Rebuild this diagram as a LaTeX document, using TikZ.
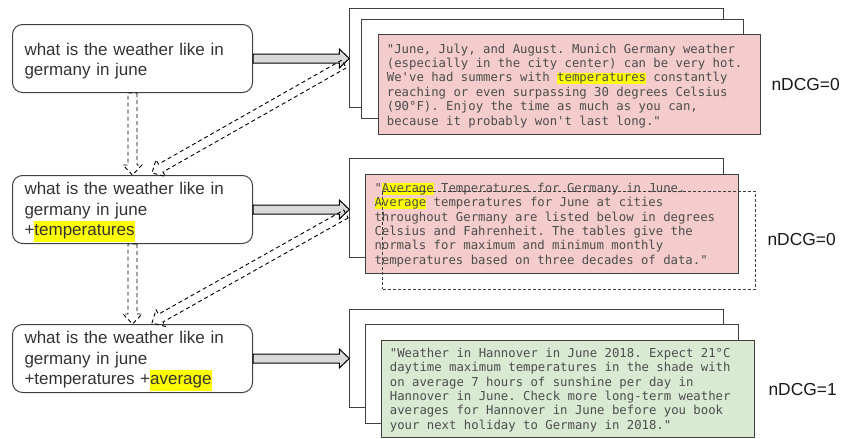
\documentclass[tikz,border=0pt]{standalone}
\usepackage{fontspec}
\setmonofont{DejaVu Sans Mono}
\newfontfamily\qfont{Liberation Sans}
\usetikzlibrary{calc}
\definecolor{pinkbg}{HTML}{F4CCCC}
\definecolor{greenbg}{HTML}{D9EAD3}
\definecolor{arrowgrey}{HTML}{D9D9D9}
\definecolor{hly}{HTML}{FFFF00}
\definecolor{qtext}{HTML}{333333}
\definecolor{dtext}{HTML}{4D4D4D}
\definecolor{edge}{HTML}{404040}
\newcommand\hlq[1]{{\setlength\fboxsep{0pt}\colorbox{hly}{\strut#1}}}
\newcommand\hld[1]{{\setlength\fboxsep{0pt}\colorbox{hly}{\rule[-2.6pt]{0pt}{11.4pt}#1}}}
\newcommand\blockarrow[3]{%
  \path[#1] let \p1=#2, \p2=#3, \n1={atan2(\y2-\y1,\x2-\x1)} in
    ($(\p1)+({\n1+90}:4.5pt)$)
    -- ($(\p2)+({\n1+180}:10pt)+({\n1+90}:4.5pt)$)
    -- ($(\p2)+({\n1+180}:10pt)+({\n1+90}:9.5pt)$)
    -- (\p2)
    -- ($(\p2)+({\n1+180}:10pt)+({\n1-90}:9.5pt)$)
    -- ($(\p2)+({\n1+180}:10pt)+({\n1-90}:4.5pt)$)
    -- ($(\p1)+({\n1-90}:4.5pt)$) -- cycle;}
\tikzset{
  query/.style={draw=edge, line width=1pt, rounded corners=10pt, anchor=north west,
    minimum width=240pt, minimum height=68pt, text width=216pt, inner xsep=12pt,
    inner ysep=0pt, align=left, font=\qfont\fontsize{17}{20.5}\selectfont, text=qtext,
    execute at begin node={\rule{0pt}{17.2pt}}},
  sheet/.style 2 args={draw=edge, line width=1pt, fill=white, anchor=north west,
    inner sep=0pt, minimum width=#1, minimum height=#2},
  docbox/.style n args={3}{sheet={#1}{#2}, fill=#3},
  doctext/.style={anchor=west, inner sep=0pt, align=left,
    font=\ttfamily\fontsize{12.3}{14.4}\selectfont, text=dtext},
  dashbox/.style 2 args={draw=edge, line width=0.9pt, dash pattern=on 3pt off 2pt,
    anchor=north west, inner sep=0pt, minimum width=#1, minimum height=#2},
  score/.style={anchor=west, font=\qfont\fontsize{17.4}{21}\selectfont, text=black!90},
  solidarrow/.style={fill=arrowgrey, draw=black, line width=1pt},
  dasharrow/.style={draw=black, line width=0.9pt, dash pattern=on 4pt off 3pt}
}
\begin{document}
\begin{tikzpicture}[x=1pt, y=-1pt]
\useasboundingbox (0,0) rectangle (841,439);

% queries
\node[query] (q1) at (12,24) {what is the weather like in\\germany in june};
\node[query] (q2) at (12,175) {what is the weather like in\\germany in june\\+\hlq{temperatures}};
\node[query] (q3) at (12,324) {what is the weather like in\\germany in june\\+temperatures +\hlq{average}};

% stack 1
\node[sheet={373.4pt}{99pt}] (b1) at (349.3,8.3) {};
\node[sheet={382.6pt}{99pt}] (m1) at (360.7,19.3) {};
\node[docbox={382.3pt}{99.7pt}{pinkbg}] (f1) at (377.7,34.3) {};
\node[doctext] (t1) at ($(f1.west)+(9,1)$) {"June, July, and August. Munich Germany weather\\(especially in the city center) can be very hot.\\We've had summers with \hld{temperatures} constantly\\reaching or even surpassing 30 degrees Celsius\\(90°F). Enjoy the time as much as you can,\\because it probably won't last long."};
\node[score] (s1) at (768,85) {nDCG=0};

% stack 2
\node[sheet={373.4pt}{99pt}] (b2) at (349.3,158.3) {};
\node[docbox={373pt}{98.7pt}{pinkbg}] (f2) at (365.3,174) {};
\node[doctext] (t2) at ($(f2.west)+(9,1)$) {"\hld{Average} Temperatures for Germany in June.\\\hld{Average} temperatures for June at cities\\throughout Germany are listed below in degrees\\Celsius and Fahrenheit. The tables give the\\normals for maximum and minimum monthly\\temperatures based on three decades of data."};
\node[dashbox={372.7pt}{98.3pt}] (x2) at (382.3,190.7) {};
\node[score] (s2) at (764,240) {nDCG=0};

% stack 3
\node[sheet={373.4pt}{98pt}] (b3) at (349.3,309.3) {};
\node[sheet={373.3pt}{99pt}] (m3) at (365,324.3) {};
\node[docbox={373.3pt}{97pt}{greenbg}] (f3) at (380.7,340) {};
\node[doctext] (t3) at ($(f3.west)+(9,1)$) {"Weather in Hannover in June 2018. Expect 21°C\\daytime maximum temperatures in the shade with\\on average 7 hours of sunshine per day in\\Hannover in June. Check more long-term weather\\averages for Hannover in June before you book\\your next holiday to Germany in 2018."};
\node[score] (s3) at (765,390) {nDCG=1};

% retrieval arrows
\blockarrow{solidarrow}{(q1.east)}{(q1.east -| b1.west)}
\blockarrow{solidarrow}{(q2.east)}{(q2.east -| b2.west)}
\blockarrow{solidarrow}{(q3.east)}{(q3.east -| b3.west)}

% expansion arrows
\blockarrow{dasharrow}{(q1.south)}{(q2.north)}
\blockarrow{dasharrow}{(q2.south)}{(q3.north)}
\coordinate (d1s) at (344,64);
\coordinate (d1e) at (152,173);
\coordinate (d2s) at (346,214);
\coordinate (d2e) at (152,323);
\blockarrow{dasharrow}{(d1s)}{(d1e)}
\blockarrow{dasharrow}{(d2s)}{(d2e)}
\end{tikzpicture}
\end{document}
